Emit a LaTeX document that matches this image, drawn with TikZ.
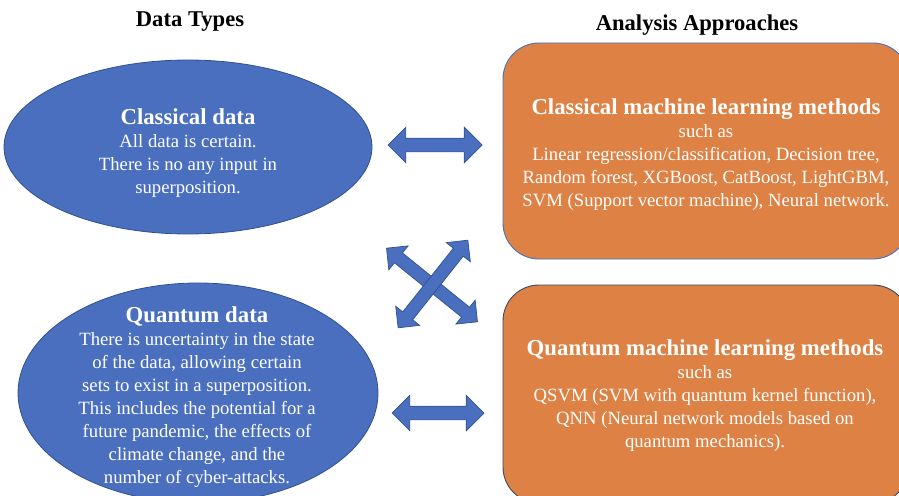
\documentclass[tikz,border=0pt]{standalone}
\usepackage{fontspec}
\setmainfont{Liberation Serif}
\usetikzlibrary{shapes.geometric,shapes.arrows}

\definecolor{ovalblue}{HTML}{4A6FBF}
\definecolor{ovalline}{HTML}{2F528F}
\definecolor{boxorange}{HTML}{DD8244}
\definecolor{boxline}{HTML}{4472C4}
\definecolor{boxdark}{HTML}{3A4A66}

\tikzset{
  dataoval/.style={ellipse,draw=ovalline,fill=ovalblue,line width=0.8pt,inner sep=0pt},
  methodbox/.style={rectangle,rounded corners=36pt,fill=boxorange,line width=0.9pt,inner sep=0pt},
  twoway/.style={double arrow,draw=ovalline,fill=ovalblue,line width=0.7pt,
    minimum width=0pt,inner sep=6.5pt,double arrow head extend=11pt,double arrow tip angle=90},
  heading/.style={font=\fontsize{22.6}{26}\selectfont\bfseries},
  bodytext/.style={text=white,align=center,font=\fontsize{18.7}{23}\selectfont},
}
\newcommand{\boxtitle}[1]{{\fontsize{22.8}{23}\selectfont\bfseries #1}}

\begin{document}
\begin{tikzpicture}[x=1pt,y=-1pt]
\useasboundingbox (0,0) rectangle (899,495);
\clip (0,0) rectangle (899,495);

% column headings
\node[heading] (lefthead) at (190,22) {Data Types};
\node[heading] (righthead) at (697,25) {Analysis Approaches};

% data ovals
\node[dataoval,minimum width=368pt,minimum height=174pt] (cdata) at (188,147) {};
\node[dataoval,minimum width=360pt,minimum height=220pt] (qdata) at (198,393) {};
\node[bodytext] (cdatatext) at (188,153) {\boxtitle{Classical data}\\All data is certain.\\There is no any input in\\superposition.};
\node[bodytext] (qdatatext) at (197,397) {\boxtitle{Quantum data}\\There is uncertainty in the state\\of the data, allowing certain\\sets to exist in a superposition.\\This includes the potential for a\\future pandemic, the effects of\\climate change, and the\\number of cyber-attacks.};

% method boxes
\node[methodbox,draw=boxline,minimum width=406pt,minimum height=216pt] (cml) at (706,151) {};
\node[methodbox,draw=boxdark,minimum width=406pt,minimum height=218pt] (qml) at (706,394) {};
\node[bodytext] (cmltext) at (706,155) {\boxtitle{Classical machine learning methods}\\such as\\Linear regression/classification, Decision tree,\\Random forest, XGBoost, CatBoost, LightGBM,\\SVM (Support vector machine), Neural network.};
\node[bodytext] (qmltext) at (705,396) {\boxtitle{Quantum machine learning methods}\\such as\\ QSVM (SVM with quantum kernel function),\\QNN (Neural network models based on\\quantum mechanics).};

% two-way arrows
\node[twoway,minimum height=94pt] (toparrow) at (435,145) {};
\node[twoway,minimum height=92pt] (botarrow) at (438,413) {};
\node[twoway,minimum height=117pt,inner sep=6pt,double arrow head extend=9pt,rotate=-39] (crossdown) at (432,285) {};
\node[twoway,minimum height=112pt,inner sep=6pt,double arrow head extend=9pt,rotate=51.5] (crossup) at (433,284) {};
\end{tikzpicture}
\end{document}
